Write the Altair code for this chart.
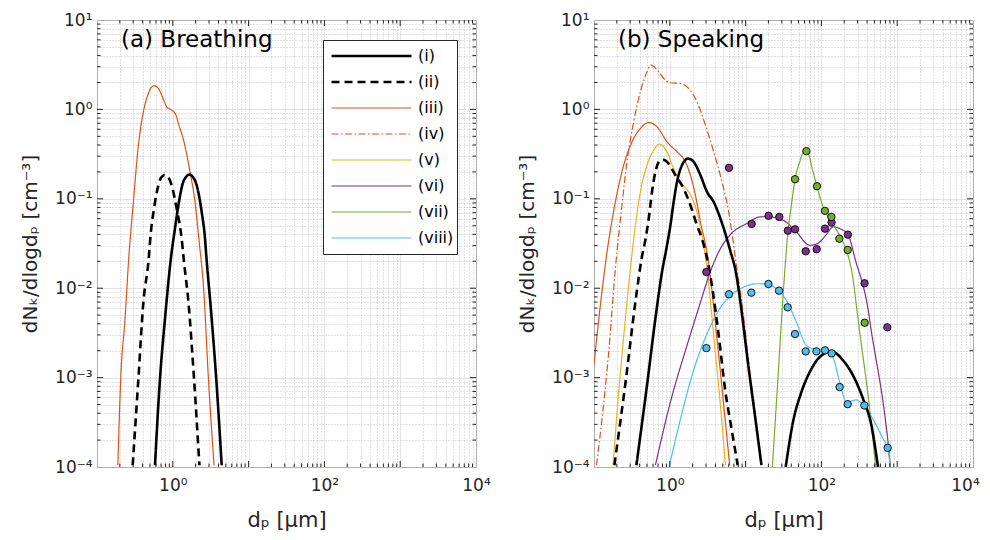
import altair as alt
import pandas as pd

FONT = "DejaVu Sans"
FRAME = "#262626"

SERIES = ["(i)", "(ii)", "(iii)", "(iv)", "(v)", "(vi)", "(vii)", "(viii)"]
COLORS = ["#000000", "#000000", "#D95319", "#D95319", "#EDB120", "#7E2F8E", "#77AC30", "#4DBEEE"]
DASHES = [[1, 0], [8, 5], [1, 0], [7, 2.5, 1.5, 2.5], [1, 0], [1, 0], [1, 0], [1, 0]]
WIDTHS = [2.6, 2.6, 1.2, 1.2, 1.2, 1.2, 1.2, 1.2]

PANEL_A = "(a) Breathing"
PANEL_B = "(b) Speaking"
XTITLE = "dₚ [μm]"
YTITLE = "dNₖ/dlogdₚ [cm⁻³]"

X_LABEL_VALUES = [1, 100, 10000]
X_LABELS = ["10⁰", "10²", "10⁴"]
Y_LABEL_VALUES = [0.0001, 0.001, 0.01, 0.1, 1, 10]
Y_LABELS = ["10⁻⁴", "10⁻³", "10⁻²", "10⁻¹", "10⁰", "10¹"]

# ---- readings (log10 of d_p, log10 of dN/dlogd_p) ----
# panel (a) breathing
A_I_X = [-0.235, -0.169, -0.103, -0.015, 0.016, 0.074, 0.131, 0.175, 0.219, 0.265, 0.315, 0.381, 0.425, 0.438, 0.513, 0.579, 0.645]
A_I_Y = [-3.98, -3.013, -2.34, -1.595, -1.408, -1.072, -0.829, -0.755, -0.729, -0.757, -0.848, -1.147, -1.446, -1.595, -2.34, -3.087, -3.98]
A_II_X = [-0.529, -0.454, -0.388, -0.322, -0.29, -0.248, -0.19, -0.155, -0.105, -0.055, -0.015, 0.051, 0.117, 0.148, 0.206, 0.280, 0.351]
A_II_Y = [-3.98, -3.013, -2.155, -1.707, -1.38, -1.11, -0.848, -0.765, -0.733, -0.765, -0.848, -1.11, -1.446, -1.707, -2.155, -3.013, -3.98]
A_III_X = [-0.725, -0.687, -0.63, -0.58, -0.52, -0.454, -0.388, -0.322, -0.29, -0.248, -0.19, -0.146, -0.08, -0.015, 0.042, 0.074, 0.148, 0.227, 0.293, 0.35, 0.404, 0.470, 0.544]
A_III_Y = [-3.98, -3.013, -2.34, -1.65, -1.035, -0.40, -0.027, 0.178, 0.24, 0.264, 0.234, 0.160, 0.029, -0.008, -0.064, -0.158, -0.363, -0.699, -1.035, -1.5, -1.971, -3.013, -3.98]

# panel (b) speaking
B_I1_X = [-0.441, -0.301, -0.19, -0.103, -0.045, 0.008, 0.051, 0.095, 0.161, 0.20, 0.240, 0.28, 0.315, 0.404, 0.491, 0.579, 0.668, 0.79, 0.879, 0.931, 1.041, 1.129, 1.209]
B_I1_Y = [-3.98, -3.087, -2.34, -1.819, -1.558, -1.296, -1.035, -0.811, -0.624, -0.57, -0.55, -0.56, -0.587, -0.736, -0.923, -1.035, -1.222, -1.558, -1.855, -2.155, -2.90, -3.46, -3.98]
B_I2_X = [1.529, 1.625, 1.736, 1.846, 1.978, 2.132, 2.285, 2.417, 2.549, 2.66, 2.747]
B_I2_Y = [-4.0, -3.498, -3.162, -2.938, -2.77, -2.707, -2.807, -2.975, -3.237, -3.535, -4.0]
B_II_X = [-0.731, -0.578, -0.454, -0.37, -0.32, -0.278, -0.235, -0.19, -0.124, -0.08, -0.037, 0.074, 0.183, 0.272, 0.359, 0.425, 0.50, 0.57, 0.645, 0.734, 0.81, 0.896]
B_II_Y = [-3.98, -3.013, -2.155, -1.66, -1.45, -1.222, -0.923, -0.699, -0.568, -0.565, -0.587, -0.736, -0.886, -1.072, -1.296, -1.45, -1.70, -2.05, -2.527, -3.16, -3.55, -3.98]
B_III_X = [-1.0, -0.916, -0.828, -0.718, -0.608, -0.499, -0.388, -0.278, -0.169, -0.037, 0.095, 0.206, 0.272, 0.338, 0.404, 0.49, 0.641, 0.729, 0.79]
B_III_Y = [-2.85, -2.19, -1.595, -1.035, -0.624, -0.363, -0.214, -0.147, -0.195, -0.363, -0.475, -0.587, -0.736, -0.96, -1.259, -1.595, -2.714, -3.46, -3.98]
B_IV_X = [-0.968, -0.894, -0.806, -0.718, -0.631, -0.565, -0.476, -0.388, -0.301, -0.248, -0.146, -0.08, 0.008, 0.140, 0.249, 0.359, 0.470, 0.579, 0.689, 0.777, 0.843, 0.887, 0.95, 1.05, 1.135, 1.205]
B_IV_Y = [-3.98, -3.46, -2.715, -1.78, -1.072, -0.587, -0.139, 0.197, 0.421, 0.496, 0.421, 0.346, 0.298, 0.29, 0.234, 0.085, -0.176, -0.475, -0.811, -1.147, -1.52, -1.80, -2.155, -2.90, -3.46, -3.98]
B_V_X = [-0.749, -0.674, -0.586, -0.512, -0.454, -0.388, -0.301, -0.212, -0.137, -0.037, 0.051, 0.140, 0.249, 0.315, 0.381, 0.447, 0.491, 0.579, 0.676, 0.734]
B_V_Y = [-3.98, -3.16, -2.34, -1.72, -1.296, -0.923, -0.624, -0.456, -0.389, -0.475, -0.662, -0.811, -0.923, -1.035, -1.222, -1.52, -1.782, -2.53, -3.386, -3.98]
B_VI_X = [-0.19, 0.008, 0.227, 0.40, 0.52, 0.63, 0.79, 1.011, 1.186, 1.274, 1.494, 1.67, 1.846, 1.95, 2.066, 2.153, 2.26, 2.35, 2.46, 2.549, 2.615, 2.66, 2.705, 2.813, 2.879, 2.91]
B_VI_Y = [-3.98, -3.274, -2.64, -2.17, -1.85, -1.62, -1.408, -1.278, -1.203, -1.20, -1.24, -1.371, -1.52, -1.50, -1.40, -1.315, -1.34, -1.40, -1.72, -1.968, -2.23, -2.49, -2.715, -3.274, -3.722, -4.0]
B_VII_X = [1.353, 1.42, 1.48, 1.516, 1.559, 1.604, 1.652, 1.714, 1.76, 1.80, 1.84, 1.868, 1.942, 2.0, 2.066, 2.175, 2.285, 2.351, 2.417, 2.461, 2.505, 2.541, 2.637, 2.716]
B_VII_Y = [-4.0, -3.1, -2.267, -1.819, -1.371, -1.072, -0.781, -0.587, -0.48, -0.46, -0.52, -0.624, -0.859, -1.035, -1.166, -1.315, -1.483, -1.632, -1.894, -2.19, -2.49, -2.715, -3.35, -4.0]
B_VIII_X = [-0.01, 0.131, 0.306, 0.483, 0.658, 0.834, 1.011, 1.142, 1.274, 1.406, 1.538, 1.670, 1.802, 1.934, 2.066, 2.153, 2.241, 2.33, 2.461, 2.567, 2.703, 2.813, 2.874, 2.91]
B_VIII_Y = [-4.0, -3.498, -2.938, -2.527, -2.23, -2.062, -1.975, -1.95, -1.953, -2.006, -2.136, -2.379, -2.64, -2.684, -2.684, -2.77, -3.05, -3.274, -3.25, -3.33, -3.498, -3.685, -3.786, -4.0]

# measured points (panel b)
PURPLE_X = [0.483, 0.781, 1.08, 1.303, 1.445, 1.557, 1.652, 1.793, 1.938, 2.047, 2.134, 2.349, 2.569, 2.87]
PURPLE_Y = [-1.819, -0.654, -1.281, -1.19, -1.203, -1.356, -1.341, -1.587, -1.564, -1.334, -1.266, -1.401, -1.945, -2.438]
GREEN_X = [1.652, 1.802, 1.942, 2.047, 2.132, 2.237, 2.347, 2.571]
GREEN_Y = [-0.781, -0.467, -0.859, -1.135, -1.203, -1.446, -1.572, -2.386]
CYAN_X = [0.483, 0.781, 1.076, 1.301, 1.441, 1.555, 1.652, 1.793, 1.934, 2.047, 2.136, 2.241, 2.347, 2.567, 2.874]
CYAN_Y = [-2.67, -2.068, -2.05, -1.953, -2.028, -2.214, -2.513, -2.707, -2.707, -2.695, -2.729, -3.106, -3.297, -3.311, -3.786]

# axis tick positions
X_MAJOR = [1, 10, 100, 1000]
Y_MAJOR = [0.001, 0.01, 0.1, 1]
X_TICKS = [m * 10.0 ** e for e in range(-1, 4) for m in range(1, 10)] + [10000]
Y_TICKS = [m * 10.0 ** e for e in range(-4, 1) for m in range(1, 10)] + [10]
X_MINOR = [t for t in X_TICKS if t not in X_MAJOR and 0.1 < t < 10000]
Y_MINOR = [t for t in Y_TICKS if t not in Y_MAJOR and 0.0001 < t < 10]

W, H = 379, 447


def curve(name, xs, ys, seg=""):
    return pd.DataFrame({"d": [10.0 ** x for x in xs], "v": [10.0 ** y for y in ys],
                         "series": name, "seg": name + seg})


def label_expr(vals, labs):
    expr = "''"
    for v, l in reversed(list(zip(vals, labs))):
        expr = f"datum.value == {v} ? '{l}' : ({expr})"
    return expr


DECADE = "abs(log(datum.value)/LN10 - round(log(datum.value)/LN10)) < 0.000001"
GRID_COLOR = {"condition": {"test": DECADE, "value": "#dcdcdc"}, "value": "#c4c4c4"}
GRID_DASH = {"condition": {"test": DECADE, "value": [1, 0]}, "value": [1, 2]}

XS = alt.Scale(type="log", domain=[0.1, 10000], nice=False)
YS = alt.Scale(type="log", domain=[0.0001, 10], nice=False)


def make_x(last_shift):
    axis = alt.Axis(title=XTITLE, values=X_TICKS, labelExpr=label_expr(X_LABEL_VALUES, X_LABELS),
                    grid=True, gridColor=GRID_COLOR, gridDash=GRID_DASH, gridWidth=1,
                    ticks=False, domain=False, labelFont=FONT, labelFontSize=17, labelColor=FRAME,
                    labelPadding=10, labelOverlap=False, labelFlush=False,
                    labelOffset={"condition": {"test": "datum.value == 10000", "value": last_shift}, "value": 0},
                    titleFont=FONT, titleFontSize=21, titleFontWeight="normal", titleColor=FRAME,
                    titlePadding=16)
    return alt.X("d:Q", scale=XS, axis=axis)


YA = alt.Axis(title=YTITLE, values=Y_TICKS, labelExpr=label_expr(Y_LABEL_VALUES, Y_LABELS),
              grid=True, gridColor=GRID_COLOR, gridDash=GRID_DASH, gridWidth=1,
              ticks=False, domain=False, labelFont=FONT, labelFontSize=17, labelColor=FRAME,
              labelPadding=5, labelOverlap=False, labelFlush=False, titleFont=FONT,
              titleFontSize=20, titleFontWeight="normal", titleColor=FRAME, titlePadding=14)
Y = alt.Y("v:Q", scale=YS, axis=YA)

LEG = alt.Legend(title=None, orient="none", legendX=226, legendY=20, symbolType="stroke",
                 symbolSize=6400, clipHeight=26, rowPadding=0, padding=3, symbolOffset=4,
                 labelFont=FONT, labelFontSize=16, labelOffset=5, labelColor="black",
                 strokeColor=FRAME, fillColor="white")


def style_enc(legend):
    return dict(
        color=alt.Color("series:N", scale=alt.Scale(domain=SERIES, range=COLORS), legend=legend),
        strokeDash=alt.StrokeDash("series:N", scale=alt.Scale(domain=SERIES, range=DASHES), legend=legend),
        strokeWidth=alt.StrokeWidth("series:N", scale=alt.Scale(type="ordinal", domain=SERIES, range=WIDTHS), legend=legend),
    )


def tick_layers(X):
    layers = []
    for vals, L in ((X_MAJOR, 6), (X_MINOR, 3.5)):
        df = pd.DataFrame({"d": vals})
        base = alt.Chart(df).mark_rule(color=FRAME, strokeWidth=1)
        layers.append(base.encode(x=X, y=alt.value(0), y2=alt.value(L)))
        layers.append(base.encode(x=X, y=alt.value(H), y2=alt.value(H - L)))
    for vals, L in ((Y_MAJOR, 6), (Y_MINOR, 3.5)):
        df = pd.DataFrame({"v": vals})
        base = alt.Chart(df).mark_rule(color=FRAME, strokeWidth=1)
        layers.append(base.encode(y=Y, x=alt.value(0), x2=alt.value(L)))
        layers.append(base.encode(y=Y, x=alt.value(W), x2=alt.value(W - L)))
    return layers


def panel_text(t):
    return alt.Chart(pd.DataFrame({"label": [t]})).mark_text(
        align="left", baseline="alphabetic", font=FONT, fontSize=23, color="black"
    ).encode(text="label:N", x=alt.value(24), y=alt.value(27))


left_df = pd.concat([
    curve("(iii)", A_III_X, A_III_Y),
    curve("(ii)", A_II_X, A_II_Y),
    curve("(i)", A_I_X, A_I_Y),
])
right_df = pd.concat([
    curve("(iv)", B_IV_X, B_IV_Y),
    curve("(iii)", B_III_X, B_III_Y),
    curve("(v)", B_V_X, B_V_Y),
    curve("(vi)", B_VI_X, B_VI_Y),
    curve("(vii)", B_VII_X, B_VII_Y),
    curve("(viii)", B_VIII_X, B_VIII_Y),
    curve("(ii)", B_II_X, B_II_Y),
    curve("(i)", B_I1_X, B_I1_Y, "a"),
    curve("(i)", B_I2_X, B_I2_Y, "b"),
])
pts_df = pd.concat([
    curve("(vi)", PURPLE_X, PURPLE_Y),
    curve("(vii)", GREEN_X, GREEN_Y),
    curve("(viii)", CYAN_X, CYAN_Y),
])

XL = make_x(0)
XR = make_x(-8)

left_lines = alt.Chart(left_df).mark_line(interpolate="monotone", clip=True).encode(
    x=XL, y=Y, detail="seg:N", **style_enc(LEG))
right_lines = alt.Chart(right_df).mark_line(interpolate="monotone", clip=True).encode(
    x=XR, y=Y, detail="seg:N", **style_enc(None))
right_pts = alt.Chart(pts_df).mark_circle(size=55, stroke="black", strokeWidth=0.9, opacity=1).encode(
    x=XR, y=Y, color=alt.Color("series:N", scale=alt.Scale(domain=SERIES, range=COLORS), legend=None))

left = alt.layer(left_lines, *tick_layers(XL), panel_text(PANEL_A)).properties(width=W, height=H)
right = alt.layer(right_lines, right_pts, *tick_layers(XR), panel_text(PANEL_B)).properties(width=W, height=H)

chart = alt.hconcat(left, right, spacing=118, bounds="flush").resolve_scale(
    color="independent", strokeDash="independent", strokeWidth="independent"
).properties(
    padding={"left": 12, "top": 2, "right": 0, "bottom": 0}, background="white"
).configure_view(stroke=FRAME, strokeWidth=1)

chart.save("out.html", embed_options={"renderer": "svg", "actions": False})
